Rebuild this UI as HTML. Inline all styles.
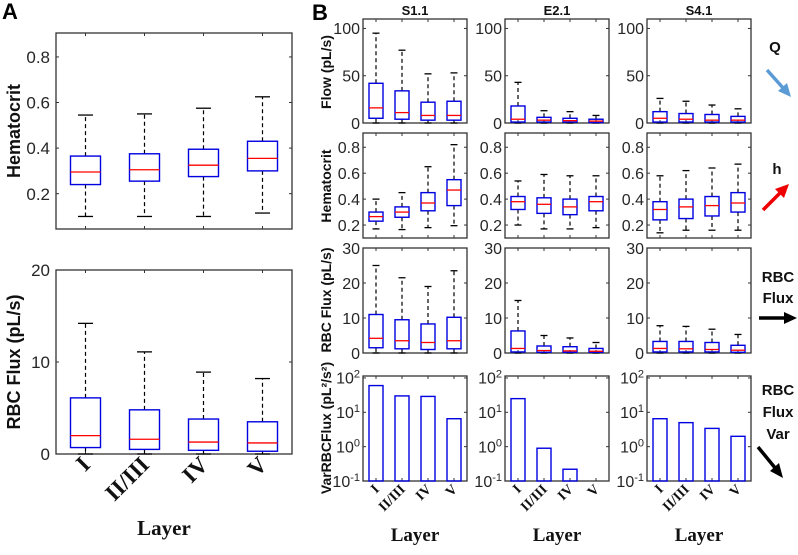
<!DOCTYPE html>
<html><head><meta charset="utf-8"><style>
html,body{margin:0;padding:0;background:#fff;}
svg{display:block;}
</style></head><body>
<svg id="fig" width="798" height="555" viewBox="0 0 798 555" xmlns="http://www.w3.org/2000/svg">
<text x="2" y="19" font-family="Liberation Sans, sans-serif" font-weight="bold" font-size="22">A</text>
<text x="312" y="20" font-family="Liberation Sans, sans-serif" font-weight="bold" font-size="22">B</text>
<g id="plots"></g>
<g font-family="Liberation Sans, sans-serif" font-weight="bold" font-size="15" fill="#111" text-anchor="middle">
<text x="775" y="52">Q</text>
<text x="777" y="174">h</text>
<text x="778" y="282">RBC</text>
<text x="778" y="303">Flux</text>
<text x="778" y="395">RBC</text>
<text x="778" y="417">Flux</text>
<text x="778" y="439">Var</text>
</g>
<g><line x1="767" y1="70" x2="784" y2="89" stroke="#5b9bd5" stroke-width="3.5"/><polygon points="791,97 778,91 787,83" fill="#5b9bd5"/></g>
<g><line x1="763" y1="210" x2="781" y2="192" stroke="#e00" stroke-width="3.5"/><polygon points="789,184 784,198 775,189" fill="#e00"/></g>
<g><line x1="759" y1="318" x2="786" y2="318" stroke="#000" stroke-width="3.5"/><polygon points="797,318 784,312 784,324" fill="#000"/></g>
<g><line x1="758" y1="447" x2="776" y2="469" stroke="#000" stroke-width="3.5"/><polygon points="783,478 770,471 779,463" fill="#000"/></g>
</svg>
<script>
const layers = ["I","II/III","IV","V"];
// Panel A hematocrit
const aHctLo=[0.10,0.10,0.10,0.115], aHctQ1=[0.24,0.255,0.275,0.30], aHctMed=[0.295,0.305,0.325,0.355], aHctQ3=[0.365,0.375,0.395,0.43], aHctHi=[0.545,0.55,0.575,0.625];
// Panel A RBC flux
const aFluxLo=[0,0,0,0], aFluxQ1=[0.7,0.5,0.4,0.3], aFluxMed=[2.0,1.6,1.3,1.2], aFluxQ3=[6.1,4.8,3.8,3.5], aFluxHi=[14.2,11.1,8.9,8.2];
// Panel B flow
const s1FlowLo=[0,0,0,0], s1FlowQ1=[5,4,3,3], s1FlowMed=[16,11,8,8], s1FlowQ3=[42,34,22,23], s1FlowHi=[95,77,52,53];
const e2FlowLo=[0,0,0,0], e2FlowQ1=[1,1,1,0.5], e2FlowMed=[4,3,2.5,2], e2FlowQ3=[18,6,5,4], e2FlowHi=[43,13,12,8];
const s4FlowLo=[0,0,0,0], s4FlowQ1=[1,1,1,1], s4FlowMed=[5,4,3,3], s4FlowQ3=[12,10,9,7], s4FlowHi=[26,23,19,15];
// Panel B hematocrit
const s1HctLo=[0.17,0.165,0.18,0.195], s1HctQ1=[0.23,0.26,0.31,0.35], s1HctMed=[0.265,0.30,0.37,0.47], s1HctQ3=[0.30,0.34,0.45,0.55], s1HctHi=[0.40,0.45,0.65,0.82];
const e2HctLo=[0.20,0.17,0.17,0.18], e2HctQ1=[0.32,0.29,0.28,0.31], e2HctMed=[0.38,0.36,0.34,0.38], e2HctQ3=[0.42,0.41,0.40,0.42], e2HctHi=[0.54,0.59,0.58,0.58];
const s4HctLo=[0.14,0.16,0.16,0.16], s4HctQ1=[0.24,0.25,0.27,0.30], s4HctMed=[0.32,0.34,0.35,0.37], s4HctQ3=[0.38,0.40,0.42,0.45], s4HctHi=[0.58,0.62,0.64,0.67];
// Panel B RBC flux
const s1FluxLo=[0,0,0,0], s1FluxQ1=[1.5,1.2,1.0,1.2], s1FluxMed=[4.2,3.5,3.0,3.5], s1FluxQ3=[11,9.5,8.3,10.2], s1FluxHi=[25,21.5,19,23.5];
const e2FluxLo=[0,0,0,0], e2FluxQ1=[0.3,0.2,0.2,0.2], e2FluxMed=[1.3,0.7,0.6,0.5], e2FluxQ3=[6.3,2.0,1.8,1.3], e2FluxHi=[15,5,4.3,3];
const s4FluxLo=[0,0,0,0], s4FluxQ1=[0.3,0.3,0.3,0.2], s4FluxMed=[1.3,1.2,1.0,0.8], s4FluxQ3=[3.3,3.3,3.0,2.2], s4FluxHi=[7.8,7.6,6.8,5.3];
// Panel B variance
const s1Var=[60,30,29,6.5];
const e2Var=[25,0.9,0.22,0];
const s4Var=[6.5,5.0,3.4,2.0];

const NS="http://www.w3.org/2000/svg";
const root=document.getElementById('plots');
function mk(tag,attrs,parent){const e=document.createElementNS(NS,tag);for(const k in attrs)e.setAttribute(k,attrs[k]);(parent||root).appendChild(e);return e;}
function linScale(d0,d1,r0,r1){return v=>r0+(v-d0)/(d1-d0)*(r1-r0);}
function logScale(d0,d1,r0,r1){return v=>r0+(Math.log10(v)-Math.log10(d0))/(Math.log10(d1)-Math.log10(d0))*(r1-r0);}

function frame(name,L,T,R,B,yTicks,yScale,labelFn,fs,tickLabelGap){
  const g=mk('g',{});
  
  
  const xs=linScale(0.5,4.5,L,R);
  mk('rect',{x:L,y:T,width:R-L,height:B-T,fill:'#fff',stroke:'#333','stroke-width':1.3},g);
  for(let i=0;i<4;i++){const x=xs(i+1);
    mk('line',{x1:x,y1:B,x2:x,y2:B-3,stroke:'#333','stroke-width':1},g);
    mk('line',{x1:x,y1:T,x2:x,y2:T+3,stroke:'#333','stroke-width':1},g);}
  yTicks.forEach(v=>{const y=yScale(v);
    mk('line',{x1:L,y1:y,x2:L+3,y2:y,stroke:'#333','stroke-width':1},g);
    mk('line',{x1:R,y1:y,x2:R-3,y2:y,stroke:'#333','stroke-width':1},g);
    const t=mk('text',{x:L-tickLabelGap,y:y+fs*0.36,'text-anchor':'end','font-family':'Liberation Sans, sans-serif','font-size':fs,fill:'#262626'},g);
    
    
    labelFn(t,v);});
  return {g,xs};
}
function plainLabel(t,v){t.textContent=String(v);}
function logLabel(t,v){const e=Math.round(Math.log10(v));t.textContent='10';const s=mk('tspan',{dy:-6,'font-size':'11'},t);s.textContent=String(e);}

function boxes(name,g,xs,ys,lo,q1,med,q3,hi,halfW){
  for(let i=0;i<layers.length;i++){const x=xs(i+1);
    const bg=mk('g',{},g);
    
    
    mk('line',{x1:x,y1:ys(q3[i]),x2:x,y2:ys(hi[i]),stroke:'#000','stroke-width':1.2,'stroke-dasharray':'4,3'},bg);
    mk('line',{x1:x,y1:ys(q1[i]),x2:x,y2:ys(lo[i]),stroke:'#000','stroke-width':1.2,'stroke-dasharray':'4,3'},bg);
    mk('line',{x1:x-halfW/2,y1:ys(hi[i]),x2:x+halfW/2,y2:ys(hi[i]),stroke:'#000','stroke-width':1.3},bg);
    mk('line',{x1:x-halfW/2,y1:ys(lo[i]),x2:x+halfW/2,y2:ys(lo[i]),stroke:'#000','stroke-width':1.3},bg);
    mk('rect',{x:x-halfW,y:ys(q3[i]),width:2*halfW,height:ys(q1[i])-ys(q3[i]),fill:'none',stroke:'#0000e0','stroke-width':1.4},bg);
    mk('line',{x1:x-halfW,y1:ys(med[i]),x2:x+halfW,y2:ys(med[i]),stroke:'#f00','stroke-width':1.3},bg);
  }
}
function ylabel(name,x,y,txt,fs){
  const t=mk('text',{x:x,y:y,transform:`rotate(-90 ${x} ${y})`,'text-anchor':'middle','font-family':'Liberation Sans, sans-serif','font-weight':'bold','font-size':fs,fill:'#111'});
  
  
  t.textContent=txt;
  return t;
}
function xlabels(name,xs,B,fs,dx,dy){
  layers.forEach((l,i)=>{const x=xs(i+1)+dx,y=B+dy;
    const t=mk('text',{x:x,y:y,transform:`rotate(-45 ${x} ${y})`,'text-anchor':'end','font-family':'Liberation Serif, serif','font-weight':'bold','font-size':fs,fill:'#111'});
    
    
    t.textContent=l;});
}
function layerTitle(name,x,y,fs){
  const t=mk('text',{x:x,y:y,'text-anchor':'middle','font-family':'Liberation Serif, serif','font-weight':'bold','font-size':fs,fill:'#111'});
  
  
  t.textContent='Layer';
}

// Panel A
(function(){
  const L=56,R=292;
  let ys=linScale(0.045,0.905,229,33);
  let f=frame('panel-a-hematocrit-plot',L,33,R,229,[0.2,0.4,0.6,0.8],ys,plainLabel,17,6);
  boxes('a-hct',f.g,f.xs,ys,aHctLo,aHctQ1,aHctMed,aHctQ3,aHctHi,15);
  ylabel('panel-a-hematocrit-y-title',20,131,'Hematocrit',18);
  ys=linScale(0,20,454,270);
  f=frame('panel-a-rbc-flux-plot',L,270,R,454,[0,10,20],ys,plainLabel,17,6);
  boxes('a-flux',f.g,f.xs,ys,aFluxLo,aFluxQ1,aFluxMed,aFluxQ3,aFluxHi,15);
  ylabel('panel-a-rbc-flux-y-title',20,362,'RBC Flux (pL/s)',18);
  xlabels('panel-a',f.xs,454,23,6,12);
  layerTitle('panel-a-x-title',164,535,21);
})();

// Panel B
(function(){
  const cols=[363,505,647], W=104;
  const names=['s1','e2','s4'], titles=['S1.1','E2.1','S4.1'];
  const flow=[[s1FlowLo,s1FlowQ1,s1FlowMed,s1FlowQ3,s1FlowHi],[e2FlowLo,e2FlowQ1,e2FlowMed,e2FlowQ3,e2FlowHi],[s4FlowLo,s4FlowQ1,s4FlowMed,s4FlowQ3,s4FlowHi]];
  const hct=[[s1HctLo,s1HctQ1,s1HctMed,s1HctQ3,s1HctHi],[e2HctLo,e2HctQ1,e2HctMed,e2HctQ3,e2HctHi],[s4HctLo,s4HctQ1,s4HctMed,s4HctQ3,s4HctHi]];
  const flux=[[s1FluxLo,s1FluxQ1,s1FluxMed,s1FluxQ3,s1FluxHi],[e2FluxLo,e2FluxQ1,e2FluxMed,e2FluxQ3,e2FluxHi],[s4FluxLo,s4FluxQ1,s4FluxMed,s4FluxQ3,s4FluxHi]];
  const vars=[s1Var,e2Var,s4Var];
  cols.forEach((L,c)=>{
    const R=L+W, n=names[c];
    const tt=mk('text',{x:L+W/2,y:15,'text-anchor':'middle','font-family':'Liberation Sans, sans-serif','font-weight':'bold','font-size':13,fill:'#111'});
    
    
    tt.textContent=titles[c];
    let ys=linScale(0,110,123,19);
    let f=frame(n+'-flow-plot',L,19,R,123,[0,50,100],ys,plainLabel,16,3);
    boxes(n+'-flow',f.g,f.xs,ys,...flow[c],7);
    ys=linScale(0.1,0.91,238,133);
    f=frame(n+'-hematocrit-plot',L,133,R,238,[0.2,0.4,0.6,0.8],ys,plainLabel,16,3);
    boxes(n+'-hct',f.g,f.xs,ys,...hct[c],7);
    ys=linScale(0,30,353,248);
    f=frame(n+'-rbc-flux-plot',L,248,R,353,[0,10,20,30],ys,plainLabel,16,3);
    boxes(n+'-flux',f.g,f.xs,ys,...flux[c],7);
    ys=logScale(0.1,114,481,376);
    f=frame(n+'-var-plot',L,376,R,481,[0.1,1,10,100],ys,logLabel,16,3);
    vars[c].forEach((v,i)=>{ if(v<=0.1) return; const x=f.xs(i+1);
      const b=mk('rect',{x:x-7,y:ys(v),width:14,height:481-ys(v),fill:'none',stroke:'#0000e0','stroke-width':1.4},f.g);
      
      });
    xlabels(n+'-var',f.xs,481,14,4,9);
    layerTitle(n+'-x-title',L+W/2,541,19);
  });
  ylabel('flow-y-title',331,72,'Flow (pL/s)',14);
  ylabel('hematocrit-y-title',331,186,'Hematocrit',14);
  ylabel('rbc-flux-y-title',331,300,'RBC Flux (pL/s)',14);
  ylabel('var-y-title',331,428,'VarRBCFlux (pL²/s²)',14);
})();
</script>
</body></html>
